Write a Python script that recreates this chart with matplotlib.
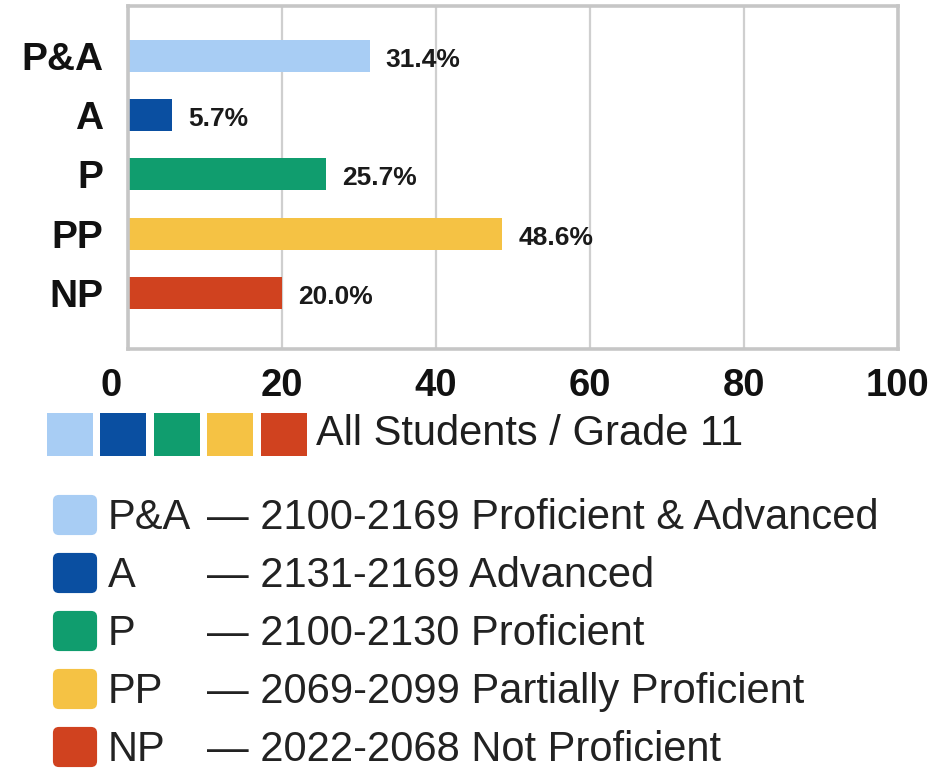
import matplotlib
matplotlib.use("Agg")
import matplotlib.pyplot as plt
from matplotlib.patches import Rectangle, FancyBboxPatch
import matplotlib.transforms as mtransforms

# ---- data ----
categories = ["P&A", "A", "P", "PP", "NP"]
values = [31.4, 5.7, 25.7, 48.6, 20.0]
value_labels = ["31.4%", "5.7%", "25.7%", "48.6%", "20.0%"]
colors = ["#a8cdf4", "#0a4fa1", "#109d6e", "#f5c244", "#d0421f"]
x_ticks = [0, 20, 40, 60, 80, 100]
group_label = "All Students / Grade 11"
legend_codes = ["P&A", "A", "P", "PP", "NP"]
legend_desc = [
    "\u2014 2100-2169 Proficient & Advanced",
    "\u2014 2131-2169 Advanced",
    "\u2014 2100-2130 Proficient",
    "\u2014 2069-2099 Partially Proficient",
    "\u2014 2022-2068 Not Proficient",
]

W, H = 935, 771
plt.rcParams["font.family"] = ["Liberation Sans", "DejaVu Sans"]
fig = plt.figure(figsize=(W / 100, H / 100), dpi=100)
fig.patch.set_facecolor("white")


def fx(px):
    return px / W


def fy(py):
    return 1 - py / H


# axes region in pixels
L, R, T, B = 128, 898, 6, 349
ax = fig.add_axes([fx(L), fy(B), fx(R) - fx(L), fy(T) - fy(B)])

ypos = list(range(len(categories)))
ax.barh(ypos, values, height=0.54, color=colors, zorder=3)
ax.set_xlim(0, 100)
ax.set_ylim(4.946, -0.844)

ax.set_xticks(x_ticks)
ax.set_xticklabels([str(t) for t in x_ticks], fontsize=27.5, fontweight="bold", color="#111111")
ax.set_yticks(ypos)
ax.set_yticklabels(categories, fontsize=28, fontweight="bold", color="#111111")
ax.tick_params(axis="both", length=0)
ax.tick_params(axis="x", pad=14)
ax.tick_params(axis="y", pad=18)

# shift the "0" label a bit to the left as in the reference
lab0 = ax.get_xticklabels()[0]
lab0.set_transform(lab0.get_transform() + mtransforms.ScaledTranslation(-17 / 100, 0, fig.dpi_scale_trans))

ax.grid(axis="x", color="#cfcfcf", linewidth=1.6, zorder=0)
ax.grid(axis="y", visible=False)
for s in ax.spines.values():
    s.set_color("#c6c6c6")
    s.set_linewidth(2.6)
    s.set_zorder(4)

offset = mtransforms.ScaledTranslation(16 / 100, -4 / 100, fig.dpi_scale_trans)
for y, v, lab in zip(ypos, values, value_labels):
    ax.text(v, y, lab, transform=ax.transData + offset, ha="left", va="center",
            fontsize=19, fontweight="bold", color="#1a1a1a", zorder=5)

# ---- group legend row ----
sq_x = [47, 100, 154, 207, 261]
for x0, c in zip(sq_x, colors):
    fig.patches.append(Rectangle((fx(x0), fy(456)), fx(46), 43 / H,
                                 transform=fig.transFigure, facecolor=c, edgecolor="none"))
fig.text(fx(316), fy(445), group_label, fontsize=30, color="#1e1e1e",
         ha="left", va="baseline")

# ---- bottom legend ----
row_centers = [515, 573, 631, 689, 747]
for yc, c, code, desc in zip(row_centers, colors, legend_codes, legend_desc):
    fig.patches.append(FancyBboxPatch((fx(53 + 6), fy(yc + 20 - 6)), fx(44 - 12), (40 - 12) / H,
                                      boxstyle="round,pad=0.0065",
                                      transform=fig.transFigure, facecolor=c, edgecolor="none",
                                      mutation_aspect=W / H))
    fig.text(fx(108), fy(yc + 14), code, fontsize=30, color="#222222", ha="left", va="baseline")
    fig.text(fx(207), fy(yc + 14), desc, fontsize=30, color="#222222", ha="left", va="baseline")

fig.savefig("out.png", dpi=100, facecolor="white")
